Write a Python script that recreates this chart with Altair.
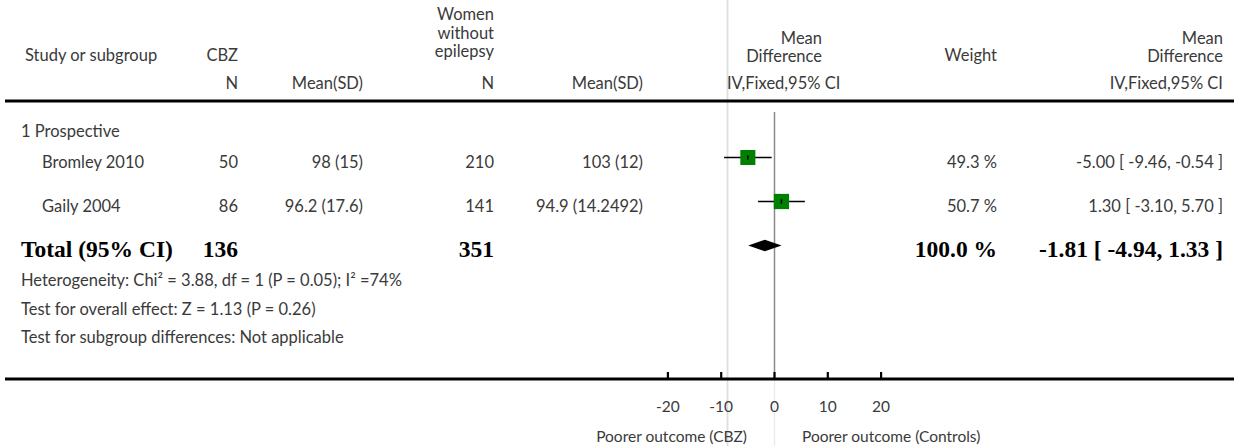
import altair as alt
import pandas as pd

# ---- study data -------------------------------------------------------------
studies = ["Bromley 2010", "Gaily 2004"]
cbz_n = [50, 86]
cbz_mean_sd = ["98 (15)", "96.2 (17.6)"]
ctl_n = [210, 141]
ctl_mean_sd = ["103 (12)", "94.9 (14.2492)"]
weights = [49.3, 50.7]
md = [-5.00, 1.30]
ci_lo = [-9.46, -3.10]
ci_hi = [-0.54, 5.70]

total_cbz_n = 136
total_ctl_n = 351
total_weight = 100.0
total_md, total_lo, total_hi = -1.81, -4.94, 1.33

axis_ticks = [-20, -10, 0, 10, 20]

subgroup = "1 Prospective"
footnotes = [
    "Heterogeneity: Chi\u00b2 = 3.88, df = 1 (P = 0.05); I\u00b2 =74%",
    "Test for overall effect: Z = 1.13 (P = 0.26)",
    "Test for subgroup differences: Not applicable",
]

# ---- layout -----------------------------------------------------------------
W, H = 1234, 446
SANS = "Lato"
SERIF = "Liberation Serif"
GREY = "#3a3a3a"
FS = 16.5          # body text
FS_BOLD = 23.5     # totals row
FS_AXIS = 15.5     # axis labels

# column anchors (pixels)
X_SUB, X_STUDY, X_HDR = 21, 42, 25
X_N1, X_M1, X_N2, X_M2 = 238, 363, 494, 643
X_W, X_MD, X_FOREST_HDR = 997, 1223, 822

# row baselines (pixels)
Y_HDR, Y_SUBHDR = 61, 89
Y_GROUP = 137
Y_ROWS = [168, 212]
Y_TOTAL = 257
Y_FOOT = [286, 315, 343]
Y_TOP_RULE, Y_AXIS = 101, 379

# forest x scale: value 0 at 774.5 px, 10 units = 53.3 px
PX0, PX_PER_UNIT = 774.5, 5.33
x_dom = [(0 - PX0) / PX_PER_UNIT, (W - PX0) / PX_PER_UNIT]
# forest y scale: row 1 at 157.5 px, 44 px per row
ROW0, ROW_PX = 113.5, 44.0
y_dom = [(0 - ROW0) / ROW_PX, (H - ROW0) / ROW_PX]

xs = alt.Scale(domain=x_dom, nice=False, zero=False)
ys = alt.Scale(domain=y_dom, nice=False, zero=False, reverse=True)


def fmt_ci(m, lo, hi):
    return f"{m:.2f} [ {lo:.2f}, {hi:.2f} ]"


def text_layer(rows, align, font=SANS, size=FS, weight="normal", color=GREY):
    df = pd.DataFrame(rows, columns=["label", "px", "py"])
    return (
        alt.Chart(df)
        .mark_text(align=align, baseline="alphabetic", font=font,
                   fontSize=size, fontWeight=weight, color=color)
        .encode(
            x=alt.X("px:Q", scale=None, axis=None),
            y=alt.Y("py:Q", scale=None, axis=None),
            text="label:N",
        )
    )


# ---- table text ---------------------------------------------------------------
left_rows = [
    ("Study or subgroup", X_HDR, Y_HDR),
    ("IV,Fixed,95% CI", 727, Y_SUBHDR),
    (subgroup, X_SUB, Y_GROUP),
]
left_rows += [(s, X_STUDY, y) for s, y in zip(studies, Y_ROWS)]
left_rows += [(t, X_SUB, y) for t, y in zip(footnotes, Y_FOOT)]

right_rows = [
    ("Women", X_N2, 20), ("without", X_N2, 39), ("epilepsy", X_N2, 57),
    ("Mean", X_FOREST_HDR, 44), ("Difference", X_FOREST_HDR, 62),
    ("Mean", X_MD, 44), ("Difference", X_MD, 62),
    ("CBZ", X_N1, Y_HDR), ("Weight", X_W, Y_HDR),
    ("N", X_N1, Y_SUBHDR), ("Mean(SD)", X_M1, Y_SUBHDR),
    ("N", X_N2, Y_SUBHDR), ("Mean(SD)", X_M2, Y_SUBHDR),
    ("IV,Fixed,95% CI", X_MD, Y_SUBHDR),
]
for i, y in enumerate(Y_ROWS):
    right_rows += [
        (str(cbz_n[i]), X_N1, y),
        (cbz_mean_sd[i], X_M1, y),
        (str(ctl_n[i]), X_N2, y),
        (ctl_mean_sd[i], X_M2, y),
        (f"{weights[i]:.1f} %", X_W, y),
        (fmt_ci(md[i], ci_lo[i], ci_hi[i]), X_MD, y),
    ]

bold_left = [("Total (95% CI)", X_SUB, Y_TOTAL)]
bold_right = [
    (str(total_cbz_n), X_N1, Y_TOTAL),
    (str(total_ctl_n), X_N2, Y_TOTAL),
    (f"{total_weight:.1f} %", X_W, Y_TOTAL),
    (fmt_ci(total_md, total_lo, total_hi), X_MD, Y_TOTAL),
]

outcome_left = [("Poorer outcome (CBZ)", 747, 442)]
outcome_right = [("Poorer outcome (Controls)", 802, 442)]

texts = [
    text_layer(left_rows, "left"),
    text_layer(right_rows, "right"),
    text_layer(bold_left, "left", font=SERIF, size=FS_BOLD, weight="bold", color="black"),
    text_layer(bold_right, "right", font=SERIF, size=FS_BOLD, weight="bold", color="black"),
    text_layer(outcome_left, "right", size=FS_AXIS),
    text_layer(outcome_right, "left", size=FS_AXIS),
]

# ---- rules and guides ----------------------------------------------------------
one = pd.DataFrame({"k": [0]})


def hline(y, color="black", width=3):
    return alt.Chart(one).mark_rule(color=color, strokeWidth=width).encode(
        x=alt.value(5), x2=alt.value(W), y=alt.value(y)
    )


guide_line = alt.Chart(one).mark_rule(color="#dedede", strokeWidth=1.8).encode(
    x=alt.value(727.5), y=alt.value(0), y2=alt.value(H)
)

zero_df = pd.DataFrame({"v": [0]})
zero_line = alt.Chart(zero_df).mark_rule(color="#8a8a8a", strokeWidth=1.5).encode(
    x=alt.X("v:Q", scale=xs, axis=None), y=alt.value(112), y2=alt.value(Y_AXIS)
)
zero_faint = alt.Chart(zero_df).mark_rule(color="#ececec", strokeWidth=1.5).encode(
    x=alt.X("v:Q", scale=xs, axis=None), y=alt.value(Y_AXIS), y2=alt.value(H)
)

ticks_df = pd.DataFrame({"v": axis_ticks, "lab": [str(t) for t in axis_ticks]})
tick_marks = alt.Chart(ticks_df).mark_rule(color="black", strokeWidth=2.2).encode(
    x=alt.X("v:Q", scale=xs, axis=None), y=alt.value(Y_AXIS - 7), y2=alt.value(Y_AXIS)
)
tick_labels = alt.Chart(ticks_df).mark_text(
    align="center", baseline="alphabetic", font=SANS, fontSize=FS_AXIS, color=GREY
).encode(x=alt.X("v:Q", scale=xs, axis=None), y=alt.value(412), text="lab:N")

# ---- forest marks --------------------------------------------------------------
study_df = pd.DataFrame({
    "row": [1, 2], "md": md, "lo": ci_lo, "hi": ci_hi, "w": weights,
})
study_df["tick_top"] = study_df["row"] - 0.05
study_df["tick_bot"] = study_df["row"] + 0.05

ci_lines = alt.Chart(study_df).mark_rule(color="black", strokeWidth=1.5).encode(
    x=alt.X("lo:Q", scale=xs, axis=None), x2="hi:Q",
    y=alt.Y("row:Q", scale=ys, axis=None),
)
squares = alt.Chart(study_df).mark_square(color="#008000", opacity=1).encode(
    x=alt.X("md:Q", scale=xs, axis=None),
    y=alt.Y("row:Q", scale=ys, axis=None),
    size=alt.Size("w:Q", scale=alt.Scale(domain=[0, 100], range=[0, 460]), legend=None),
)
centre_ticks = alt.Chart(study_df).mark_rule(color="black", strokeWidth=1.5).encode(
    x=alt.X("md:Q", scale=xs, axis=None),
    y=alt.Y("tick_top:Q", scale=ys, axis=None), y2="tick_bot:Q",
)

TOTAL_ROW, HALF = 3, 0.13
diamond_df = pd.DataFrame({
    "x": [total_lo, total_md, total_hi],
    "y1": [TOTAL_ROW, TOTAL_ROW - HALF, TOTAL_ROW],
    "y2": [TOTAL_ROW, TOTAL_ROW + HALF, TOTAL_ROW],
})
diamond = alt.Chart(diamond_df).mark_area(color="black", orient="vertical", opacity=1).encode(
    x=alt.X("x:Q", scale=xs, axis=None),
    y=alt.Y("y1:Q", scale=ys, axis=None), y2="y2:Q",
)

chart = (
    alt.layer(
        guide_line, zero_faint, zero_line,
        hline(Y_TOP_RULE), hline(Y_AXIS),
        tick_marks, tick_labels,
        ci_lines, squares, centre_ticks, diamond,
        *texts,
    )
    .resolve_scale(x="independent", y="independent", size="independent")
    .properties(width=W, height=H, autosize=alt.AutoSizeParams(type="none"),
                padding=0, background="white")
    .configure_view(stroke=None)
)

chart.save("out.html", embed_options={"renderer": "svg", "actions": False})
